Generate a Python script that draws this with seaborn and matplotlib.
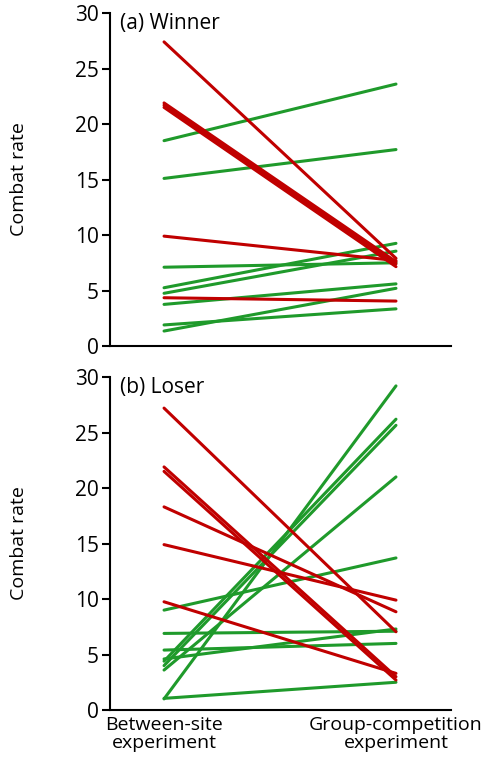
import numpy as np
import pandas as pd
import seaborn as sns
import matplotlib.pyplot as plt

# x categories
stages = ['Between-site\nexperiment', 'Group-competition\nexperiment']

# (a) winner: combat rate in each experiment, one entry per individual
winner_between = [27.4, 21.9, 21.7, 21.5, 9.9, 4.35, 18.5, 15.1, 7.1, 5.25, 4.75, 3.75, 1.9, 1.35]
winner_group = [7.9, 7.6, 7.4, 7.15, 7.7, 4.05, 23.6, 17.7, 7.5, 9.25, 8.55, 5.6, 3.35, 5.2]

# (b) loser
loser_between = [27.2, 21.9, 21.5, 18.3, 14.9, 9.75, 9.0, 6.9, 5.4, 4.6, 4.4, 4.0, 3.6, 1.0, 1.05]
loser_group = [7.05, 3.0, 2.7, 8.85, 9.9, 3.3, 13.7, 7.1, 6.0, 7.3, 26.2, 25.65, 21.0, 29.2, 2.5]

red = '#c00000'
green = '#1f9a2b'


def panelFrame(before, after):
  rows = []
  for i, (b, a) in enumerate(zip(before, after)):
    trend = 'down' if a < b else 'up'
    rows.append(dict(id=i, stage=0, rate=b, trend=trend))
    rows.append(dict(id=i, stage=1, rate=a, trend=trend))
  return pd.DataFrame(rows)


sns.set_style('ticks')
plt.rcParams['font.family'] = ['Open Sans', 'DejaVu Sans']
for k in ['text.color', 'axes.labelcolor', 'xtick.color', 'ytick.color']:
  plt.rcParams[k] = 'black'

fig = plt.figure(figsize=(4.85, 7.71), dpi=100)
ax1 = fig.add_axes([0.2268, 0.5512, 0.703, 0.4319])
ax2 = fig.add_axes([0.2268, 0.0791, 0.703, 0.4319])

panels = [
  (ax1, panelFrame(winner_between, winner_group), '(a) Winner'),
  (ax2, panelFrame(loser_between, loser_group), '(b) Loser'),
]

for ax, data, title in panels:
  sns.lineplot(data=data, x='stage', y='rate', units='id', estimator=None,
               hue='trend', hue_order=['up', 'down'],
               palette={'up': green, 'down': red},
               linewidth=2.2, legend=False, ax=ax)
  ax.set_xlim(-0.233, 1.237)
  ax.set_ylim(0, 30)
  ax.set_yticks(range(0, 31, 5))
  ax.set_xlabel('')
  ax.set_ylabel('')
  ax.tick_params(axis='y', length=6, width=1.5, labelsize=15, pad=2)
  for s in ['left', 'bottom']:
    ax.spines[s].set_linewidth(1.5)
    ax.spines[s].set_color('black')
  sns.despine(ax=ax)
  ax.text(0.03, 1.0, title, transform=ax.transAxes, fontsize=15, va='top', ha='left')
  pos = ax.get_position()
  fig.text(0.039, pos.y0 + pos.height / 2, 'Combat rate', rotation=90,
           ha='center', va='center', fontsize=14)

ax1.set_xticks([])
ax2.set_xticks([0, 1])
ax2.set_xticklabels(stages, fontsize=14, linespacing=1.05)
ax2.tick_params(axis='x', length=0, pad=4)

fig.savefig('out.png', dpi=100)
